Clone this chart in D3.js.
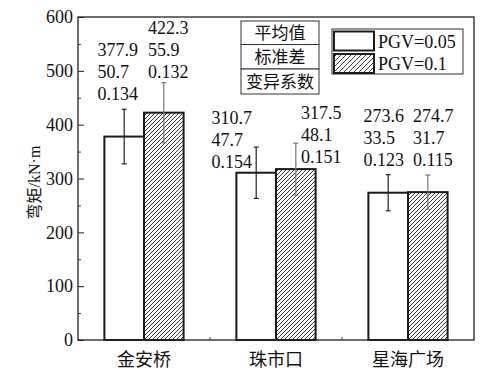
<!DOCTYPE html>
<html lang="zh">
<head>
<meta charset="UTF-8">
<title>弯矩</title>
<script src="https://cdnjs.cloudflare.com/ajax/libs/d3/7.8.5/d3.min.js"></script>
<style>
    body { margin: 0; background: #fff; }
    svg text { font-family: "Liberation Serif", "Noto Sans CJK SC", serif; fill: #111; }
</style>
</head>
<body>
<div id="chart"></div>
<script>
// data
const sites = ["金安桥", "珠市口", "星海广场"];
const series = ["PGV=0.05", "PGV=0.1"];
const means = [[377.9, 422.3], [310.7, 317.5], [273.6, 274.7]];
const stds = [[50.7, 55.9], [47.7, 48.1], [33.5, 31.7]];
const covs = [["0.134", "0.132"], ["0.154", "0.151"], ["0.123", "0.115"]];
const meanText = [["377.9", "422.3"], ["310.7", "317.5"], ["273.6", "274.7"]];
const yTicks = [0, 100, 200, 300, 400, 500, 600];
const statNames = ["平均值", "标准差", "变异系数"];

// label placement (pixel layout: x shift from bar left, first baseline)
const labelDx = [[-7, 4], [-25, 25], [-5, 5]];
const labelTop = [[56, 34], [124, 119], [122, 122]];

const width = 487, height = 378;
const margin = { left: 78, right: 13, top: 17, bottom: 38 };

const svg = d3.select("#chart").append("svg")
    .attr("width", width)
    .attr("height", height);

const defs = svg.append("defs");
defs.append("pattern")
    .attr("id", "hatch")
    .attr("patternUnits", "userSpaceOnUse")
    .attr("width", 4).attr("height", 4)
    .append("path")
    .attr("d", "M-1,1 l2,-2 M0,4 l4,-4 M3,5 l2,-2")
    .attr("stroke", "#222")
    .attr("stroke-width", 0.9);
defs.append("pattern")
    .attr("id", "hatchLegend")
    .attr("patternUnits", "userSpaceOnUse")
    .attr("width", 5).attr("height", 5)
    .append("path")
    .attr("d", "M-1,1 l2,-2 M0,5 l5,-5 M4,6 l2,-2")
    .attr("stroke", "#222")
    .attr("stroke-width", 0.9);

const x = d3.scaleBand()
    .domain(sites)
    .range([margin.left, width - margin.right])
    .paddingInner(0.4)
    .paddingOuter(0.2);

const xSub = d3.scaleBand()
    .domain([0, 1])
    .range([0, x.bandwidth()]);

const y = d3.scaleLinear()
    .domain([0, 600])
    .range([height - margin.bottom, margin.top]);

const plotL = margin.left, plotR = width - margin.right;
const plotT = margin.top, plotB = height - margin.bottom;

// bars
const rows = [];
sites.forEach((s, i) => {
    series.forEach((g, j) => {
        rows.push({ site: s, i: i, j: j, mean: means[i][j], sd: stds[i][j] });
    });
});

svg.append("g").selectAll("rect")
    .data(rows)
    .enter()
    .append("rect")
    .attr("x", d => x(d.site) + xSub(d.j))
    .attr("y", d => y(d.mean))
    .attr("width", xSub.bandwidth())
    .attr("height", d => y(0) - y(d.mean))
    .attr("fill", d => d.j === 0 ? "#fff" : "url(#hatch)")
    .attr("stroke", "#1a1a1a")
    .attr("stroke-width", 2);

// error bars
const err = svg.append("g").selectAll("g")
    .data(rows)
    .enter()
    .append("g")
    .attr("stroke", d => d.j === 0 ? "#222" : "#777")
    .attr("stroke-width", 1.2);

const cx = d => x(d.site) + xSub(d.j) + xSub.bandwidth() / 2;
err.append("line")
    .attr("x1", cx).attr("x2", cx)
    .attr("y1", d => y(d.mean - d.sd))
    .attr("y2", d => y(d.mean + d.sd));
err.append("line")
    .attr("x1", d => cx(d) - 2.5).attr("x2", d => cx(d) + 2.5)
    .attr("y1", d => y(d.mean + d.sd)).attr("y2", d => y(d.mean + d.sd));
err.append("line")
    .attr("x1", d => cx(d) - 2.5).attr("x2", d => cx(d) + 2.5)
    .attr("y1", d => y(d.mean - d.sd)).attr("y2", d => y(d.mean - d.sd));

// value labels
const lab = svg.append("g").selectAll("text")
    .data(rows)
    .enter()
    .append("text")
    .attr("font-size", 18)
    .attr("x", d => x(d.site) + xSub(d.j) + labelDx[d.i][d.j])
    .attr("y", d => labelTop[d.i][d.j]);
lab.each(function(d) {
    const t = d3.select(this);
    const lines = [meanText[d.i][d.j], String(stds[d.i][d.j]), covs[d.i][d.j]];
    lines.forEach((l, k) => {
        t.append("tspan")
            .attr("x", x(d.site) + xSub(d.j) + labelDx[d.i][d.j])
            .attr("dy", k === 0 ? 0 : 22.2)
            .text(l);
    });
});

// axes
const yAxis = d3.axisLeft(y)
    .tickValues(yTicks)
    .tickSize(-6)
    .tickPadding(5)
    .tickFormat(d3.format("d"));
const gy = svg.append("g")
    .attr("transform", `translate(${plotL},0)`)
    .call(yAxis);
gy.select(".domain").remove();
gy.selectAll(".tick line").attr("stroke", "#222").attr("stroke-width", 1);
gy.selectAll(".tick text")
    .attr("font-size", 18)
    .attr("font-family", "Liberation Serif")
    .attr("fill", "#111");

const yMinor = d3.axisLeft(y)
    .tickValues(d3.range(50, 600, 100))
    .tickSize(-3)
    .tickFormat("");
const gym = svg.append("g")
    .attr("transform", `translate(${plotL},0)`)
    .call(yMinor);
gym.select(".domain").remove();
gym.selectAll(".tick line").attr("stroke", "#444");

const xAxis = d3.axisBottom(x)
    .tickSize(0)
    .tickPadding(13);
const gx = svg.append("g")
    .attr("transform", `translate(0,${plotB})`)
    .call(xAxis);
gx.select(".domain").remove();
gx.selectAll(".tick text")
    .attr("font-size", 18)
    .attr("font-family", "Noto Sans CJK SC")
    .attr("fill", "#111");

// minor ticks at band edges on x axis
svg.append("g").selectAll("line")
    .data(sites.slice(1))
    .enter()
    .append("line")
    .attr("x1", d => x(d) - x.step() * x.paddingInner() / 2)
    .attr("x2", d => x(d) - x.step() * x.paddingInner() / 2)
    .attr("y1", plotB).attr("y2", plotB - 3)
    .attr("stroke", "#444");

// frame
svg.append("rect")
    .attr("x", plotL).attr("y", plotT)
    .attr("width", plotR - plotL).attr("height", plotB - plotT)
    .attr("fill", "none")
    .attr("stroke", "#222")
    .attr("stroke-width", 1.3);

// y label
svg.append("text")
    .attr("transform", `translate(40,${(plotT + plotB) / 2 + 4}) rotate(-90)`)
    .attr("text-anchor", "middle")
    .attr("font-size", 16)
    .text("弯矩/kN·m");

// stat name table
const tbl = svg.append("g").attr("transform", "translate(241,21)");
const rowH = [23.5, 24.5, 25];
let ty = 0;
statNames.forEach((n, k) => {
    tbl.append("rect")
        .attr("x", 0).attr("y", ty)
        .attr("width", 78).attr("height", rowH[k])
        .attr("fill", "#fff")
        .attr("stroke", "#333")
        .attr("stroke-width", 1);
    tbl.append("text")
        .attr("x", 39).attr("y", ty + rowH[k] / 2 + 6.5)
        .attr("text-anchor", "middle")
        .attr("font-family", "Noto Sans CJK SC")
        .attr("font-size", 17)
        .text(n);
    ty += rowH[k];
});

// legend
const leg = svg.append("g").attr("transform", "translate(332,29)");
leg.append("rect")
    .attr("width", 131).attr("height", 45)
    .attr("fill", "#fff")
    .attr("stroke", "#333")
    .attr("stroke-width", 1);
series.forEach((s, j) => {
    leg.append("rect")
        .attr("x", 2).attr("y", 2.5 + j * 22.5)
        .attr("width", 40).attr("height", 19)
        .attr("fill", j === 0 ? "#fff" : "url(#hatchLegend)")
        .attr("stroke", "#1a1a1a")
        .attr("stroke-width", 2);
    leg.append("text")
        .attr("x", 46).attr("y", 18.5 + j * 22.5)
        .attr("font-size", 18)
        .text(s);
});
</script>
</body>
</html>
